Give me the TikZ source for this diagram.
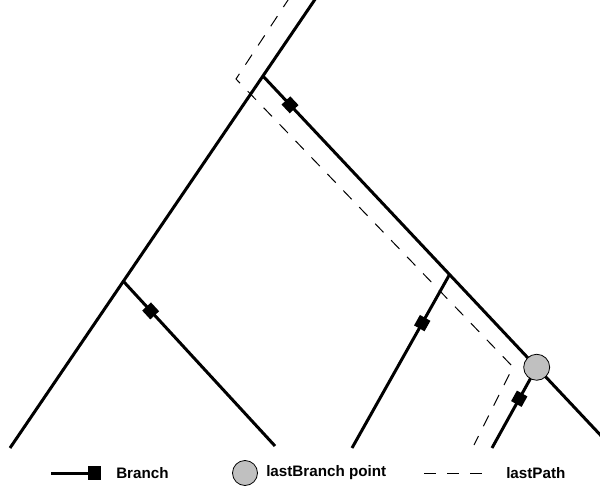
\documentclass[tikz,border=0pt]{standalone}
\usepackage{fontspec}
\setmainfont{Liberation Sans}
\usetikzlibrary{calc}
\definecolor{ptgray}{RGB}{192,192,192}
\begin{document}
\begin{tikzpicture}[x=0.75pt,y=-0.75pt,
  branchline/.style={line width=2.25pt},
  sq/.style={rectangle, fill=black, draw=none, inner sep=0pt, minimum size=9pt, sloped},
  pathline/.style={line width=0.75pt, dash pattern=on 9pt off 8.25pt},
  bpoint/.style={circle, fill=ptgray, draw=black, line width=0.6pt, inner sep=0pt, minimum size=19.5pt},
  lbl/.style={font=\bfseries\fontsize{11.4}{13}\selectfont, anchor=west, inner sep=0pt}]
\useasboundingbox (0,0) rectangle (600,492);
\begin{scope}
\clip (0,0) rectangle (600,492);
% trunk
\coordinate (trA) at (10,448);
\coordinate (trB) at (318,-5);
\coordinate (j2) at ($(trA)!(263,76)!(trB)$);
\coordinate (j1) at ($(trA)!(123,281)!(trB)$);
\coordinate (b2end) at (606,441);
\coordinate (j3) at ($(j2)!(448,276)!(b2end)$);
\coordinate (j4) at ($(j2)!(537,367)!(b2end)$);
\coordinate (b1end) at (275,446);
\coordinate (b3end) at (352,448);
\coordinate (b4end) at (492,448);
% lastPath
\coordinate (p0) at (290,-3);
\coordinate (p1) at (236,79);
\coordinate (p2) at (513,367);
\coordinate (p3) at (474,445);
\draw[pathline] (p0) -- (p1) -- (p2) -- (p3);
\draw[branchline] (trA) -- (trB);
\draw[branchline] (j1) -- node[sq, pos=0.18] (m1) {} (b1end);
\draw[branchline] (j2) -- node[sq, pos=0.079] (m2) {} (b2end);
\draw[branchline] (j3) -- node[sq, pos=0.28] (m3) {} (b3end);
\draw[branchline] (j4) -- node[sq, pos=0.39] (m4) {} (b4end);
\node[bpoint] (lb) at (j4) {};
\end{scope}
% legend
\coordinate (lgA) at (51,473);
\node[rectangle, fill=black, inner sep=0pt, minimum size=10pt] (lgsq) at (94.7,473) {};
\draw[branchline] (lgA) -- (lgsq.west);
\node[lbl] (t1) at (116,473) {Branch};
\node[bpoint, minimum size=18.75pt] (lgc) at (245,473) {};
\node[lbl] (t2) at (266,473) {lastBranch point};
\coordinate (lgdA) at (424,473);
\coordinate (lgdB) at (482,473);
\draw[pathline] (lgdA) -- (lgdB);
\node[lbl] (t3) at (506,473) {lastPath};
\end{tikzpicture}
\end{document}
